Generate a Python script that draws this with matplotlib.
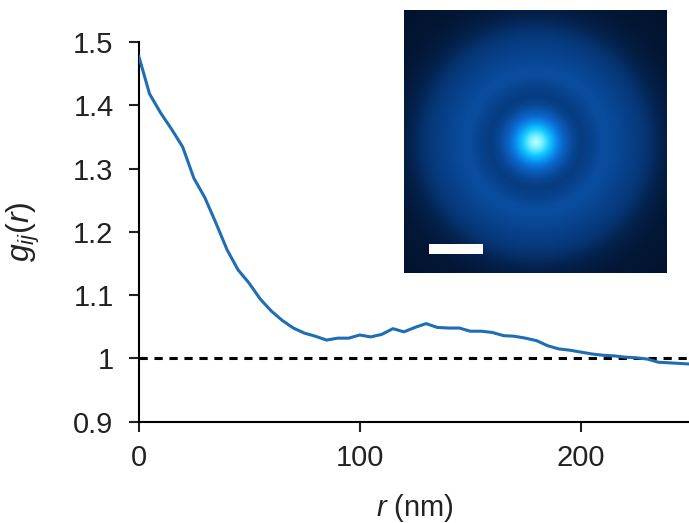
import matplotlib
matplotlib.use("Agg")
import matplotlib.pyplot as plt
import numpy as np
from matplotlib.colors import LinearSegmentedColormap
from matplotlib.patches import Rectangle
from matplotlib.ticker import FuncFormatter

# pair correlation g_ij(r) (5 nm steps)
r_nm = [0, 5, 10, 15, 20, 25, 30, 35, 40, 45, 50, 55, 60, 65, 70, 75, 80, 85, 90, 95,
        100, 105, 110, 115, 120, 125, 130, 135, 140, 145, 150, 155, 160, 165, 170, 175,
        180, 185, 190, 195, 200, 205, 210, 215, 220, 225, 230, 235, 240, 245, 250]
g_ij = [1.479, 1.418, 1.388, 1.362, 1.334, 1.285, 1.254, 1.214, 1.172, 1.140, 1.119,
        1.094, 1.075, 1.060, 1.048, 1.040, 1.035, 1.029, 1.032, 1.032, 1.037, 1.034,
        1.038, 1.047, 1.042, 1.049, 1.055, 1.049, 1.048, 1.048, 1.043, 1.043, 1.041,
        1.036, 1.035, 1.032, 1.028, 1.020, 1.015, 1.013, 1.010, 1.007, 1.005, 1.004,
        1.002, 1.001, 0.999, 0.994, 0.993, 0.992, 0.991]
x_ticks = [0, 100, 200]
y_ticks = [0.9, 1.0, 1.1, 1.2, 1.3, 1.4, 1.5]

# radial brightness of the inset map (radius in inset pixels)
ring_radius_px = [0, 6, 12, 18, 24, 30, 38, 46, 56, 66, 74, 84, 94, 104, 114, 124, 134, 150, 200]
ring_intensity = [1.0, 0.95, 0.86, 0.72, 0.57, 0.45, 0.34, 0.29, 0.32, 0.37, 0.37, 0.34,
                  0.31, 0.28, 0.23, 0.16, 0.10, 0.05, 0.0]

plt.rcParams["font.family"] = ["Liberation Sans", "DejaVu Sans"]
plt.rcParams["mathtext.fontset"] = "custom"
plt.rcParams["mathtext.rm"] = "Liberation Sans"
plt.rcParams["mathtext.it"] = "Liberation Sans:italic"

W, H = 689, 523
fig = plt.figure(figsize=(W / 100, H / 100), dpi=100)
ax = fig.add_axes([138.5 / W, 1 - 421.7 / H, 553 / W, 379.7 / H])

line_blue = "#1f6db2"
ax.plot(r_nm, g_ij, color=line_blue, lw=2.2, solid_capstyle="butt", zorder=3)
ax.axhline(1.0, color="black", lw=2.2, dashes=(2.7, 2.2), zorder=2)

ax.set_xlim(0, 250)
ax.set_ylim(0.9, 1.5)
ax.set_xticks(x_ticks)
ax.set_yticks(y_ticks)
ax.yaxis.set_major_formatter(FuncFormatter(lambda v, _: f"{v:g}"))

for side in ("top", "right"):
    ax.spines[side].set_visible(False)
for side in ("left", "bottom"):
    ax.spines[side].set_linewidth(1.5)

ax.tick_params(axis="both", direction="out", length=7, width=1.5, labelsize=21, colors="#222222")
ax.tick_params(axis="y", pad=11)
ax.tick_params(axis="x", pad=9)

ax.set_ylabel(r"$g_{ij}(r)$", fontsize=23, color="#222222")
ax.yaxis.set_label_coords(-0.175, 0.5)
ax.set_xlabel(r"$r$ (nm)", fontsize=21, color="#222222")
ax.xaxis.set_label_coords(0.5, -0.185)

# inset: averaged density map
inset = fig.add_axes([404 / W, 1 - 273 / H, 264 / W, 263 / H])
n = 264
yy, xx = np.mgrid[0:n, 0:n]
rad = np.hypot(xx - n / 2, yy - n / 2)
img = np.interp(rad, ring_radius_px, ring_intensity)
glow = LinearSegmentedColormap.from_list(
    "glow",
    [(0.0, "#02112a"), (0.15, "#04234f"), (0.3, "#073e85"), (0.4, "#0a52a8"),
     (0.55, "#0a6fd8"), (0.7, "#0a9af5"), (0.85, "#18d0ff"), (1.0, "#b8ffff")],
)
inset.imshow(img, cmap=glow, vmin=0, vmax=1, extent=(0, n, n, 0), interpolation="bilinear")
inset.add_patch(Rectangle((25, 235), 54, 10, facecolor="white", edgecolor="none"))
inset.set_xlim(0, n)
inset.set_ylim(n, 0)
inset.axis("off")

fig.savefig("out.png", dpi=100)
plt.close(fig)
